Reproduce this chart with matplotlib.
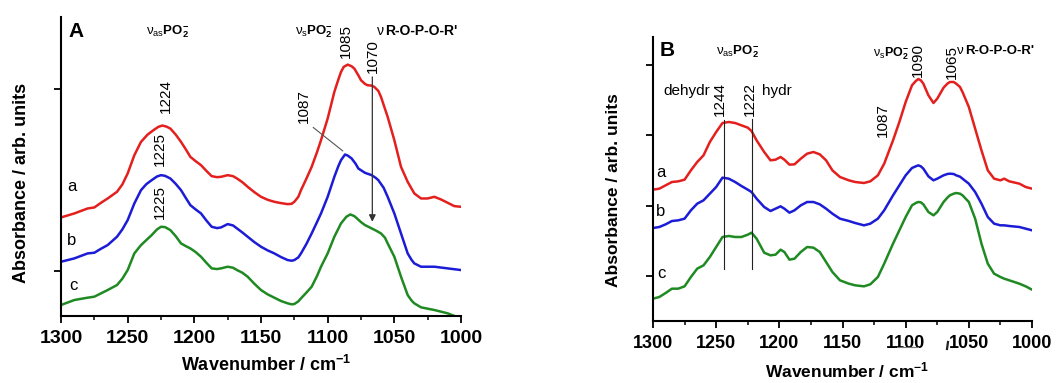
import numpy as np
import matplotlib
matplotlib.use('Agg')
import matplotlib.pyplot as plt
from matplotlib.ticker import MultipleLocator

plt.rcParams['font.family'] = ['Liberation Sans', 'DejaVu Sans']
plt.rcParams['mathtext.fontset'] = 'custom'
plt.rcParams['mathtext.rm'] = 'Liberation Sans'
plt.rcParams['mathtext.it'] = 'Liberation Sans'
plt.rcParams['mathtext.bf'] = 'Liberation Sans:bold'

# ---- Panel A data (wavenumber / cm-1, absorbance arb. units, offset) ----
wn_a_red = [1300, 1290, 1280, 1275, 1270, 1265, 1258, 1254, 1250, 1245,
            1240, 1235, 1230, 1227, 1224, 1221, 1218, 1214, 1210, 1206,
            1203, 1199, 1195, 1191, 1187, 1183, 1180, 1175, 1171, 1168,
            1164, 1160, 1155, 1150, 1145, 1140, 1135, 1130, 1127, 1125,
            1122, 1120, 1116, 1112, 1108, 1105, 1100, 1095, 1092, 1090,
            1088, 1085, 1082, 1080, 1077, 1075, 1072, 1070, 1067, 1065,
            1062, 1060, 1055, 1050, 1045, 1040, 1035, 1030, 1025, 1020,
            1015, 1010, 1005, 1000]
abs_a_red = [2.96, 3.08, 3.23, 3.26, 3.40, 3.53, 3.73, 3.95, 4.28, 4.83,
             5.23, 5.45, 5.60, 5.68, 5.72, 5.69, 5.63, 5.45, 5.23, 4.98,
             4.78, 4.65, 4.53, 4.36, 4.20, 4.17, 4.18, 4.23, 4.20, 4.13,
             4.02, 3.88, 3.72, 3.58, 3.49, 3.43, 3.39, 3.36, 3.37, 3.43,
             3.58, 3.78, 4.12, 4.48, 4.92, 5.28, 5.93, 6.73, 7.10, 7.33,
             7.48, 7.55, 7.50, 7.43, 7.23, 7.08, 6.97, 6.93, 6.92, 6.88,
             6.76, 6.58, 5.98, 5.28, 4.48, 4.03, 3.68, 3.53, 3.53, 3.58,
             3.50, 3.40, 3.30, 3.28]

wn_a_blue = [1300, 1290, 1280, 1275, 1270, 1265, 1258, 1254, 1250, 1245,
             1240, 1236, 1232, 1228, 1225, 1222, 1218, 1214, 1210, 1206,
             1203, 1199, 1195, 1191, 1187, 1183, 1180, 1175, 1171, 1168,
             1164, 1160, 1155, 1150, 1145, 1140, 1135, 1130, 1127, 1125,
             1122, 1120, 1116, 1112, 1108, 1105, 1100, 1095, 1092, 1090,
             1087, 1085, 1082, 1079, 1077, 1072, 1067, 1064, 1062, 1058,
             1055, 1050, 1045, 1040, 1037, 1035, 1030, 1020, 1010, 1000]
abs_a_blue = [1.63, 1.73, 1.88, 1.90, 2.02, 2.13, 2.38, 2.60, 2.88, 3.38,
              3.78, 3.96, 4.08, 4.19, 4.23, 4.21, 4.13, 3.97, 3.78, 3.52,
              3.33, 3.20, 3.08, 2.87, 2.68, 2.64, 2.66, 2.76, 2.72, 2.63,
              2.51, 2.38, 2.22, 2.08, 1.97, 1.88, 1.77, 1.68, 1.66, 1.68,
              1.76, 1.88, 2.16, 2.48, 2.82, 3.08, 3.58, 4.18, 4.50, 4.68,
              4.85, 4.82, 4.73, 4.57, 4.43, 4.30, 4.23, 4.15, 4.08, 3.85,
              3.58, 3.08, 2.48, 1.88, 1.68, 1.58, 1.48, 1.48, 1.43, 1.38]

wn_a_green = [1300, 1290, 1280, 1275, 1270, 1265, 1258, 1254, 1250, 1245,
              1240, 1236, 1232, 1228, 1225, 1222, 1218, 1214, 1210, 1206,
              1203, 1199, 1195, 1191, 1187, 1183, 1180, 1175, 1171, 1168,
              1164, 1160, 1155, 1150, 1145, 1140, 1135, 1130, 1127, 1125,
              1122, 1120, 1116, 1112, 1108, 1105, 1100, 1095, 1092, 1090,
              1086, 1083, 1080, 1078, 1075, 1072, 1067, 1064, 1060, 1057,
              1055, 1050, 1045, 1040, 1037, 1035, 1030, 1020, 1010, 1005,
              1000]
abs_a_green = [0.33, 0.48, 0.55, 0.58, 0.68, 0.78, 0.93, 1.12, 1.38, 1.88,
               2.13, 2.28, 2.43, 2.60, 2.68, 2.67, 2.58, 2.40, 2.18, 2.09,
               2.03, 1.92, 1.78, 1.60, 1.43, 1.41, 1.43, 1.48, 1.45, 1.38,
               1.30, 1.18, 0.97, 0.78, 0.65, 0.55, 0.45, 0.38, 0.35, 0.36,
               0.44, 0.53, 0.70, 0.88, 1.20, 1.48, 1.88, 2.38, 2.62, 2.78,
               2.98, 3.05, 3.00, 2.93, 2.82, 2.73, 2.63, 2.57, 2.48, 2.35,
               2.18, 1.78, 1.18, 0.63, 0.46, 0.38, 0.26, 0.18, 0.08, 0.00,
               -0.04]

# ---- Panel B data ----
wn_b = [1300, 1295, 1290, 1285, 1280, 1275, 1270, 1265, 1260, 1255,
        1250, 1245, 1240, 1235, 1230, 1225, 1222, 1218, 1212, 1207,
        1203, 1199, 1196, 1192, 1188, 1183, 1178, 1173, 1168, 1163,
        1158, 1152, 1145, 1140, 1133, 1128, 1122, 1117, 1110, 1105,
        1100, 1095, 1092, 1090, 1088, 1086, 1082, 1078, 1075, 1070,
        1067, 1065, 1062, 1060, 1057, 1055, 1050, 1045, 1040, 1035,
        1030, 1025, 1022, 1018, 1010, 1005, 1000]
abs_b_red = [3.94, 3.97, 4.07, 4.17, 4.19, 4.24, 4.52, 4.77, 4.97, 5.37,
             5.67, 5.94, 5.97, 5.94, 5.87, 5.80, 5.70, 5.42, 5.07, 4.82,
             4.84, 4.92, 4.84, 4.69, 4.70, 4.87, 5.02, 5.07, 5.00, 4.82,
             4.52, 4.32, 4.22, 4.17, 4.14, 4.19, 4.37, 4.72, 5.42, 5.97,
             6.57, 7.07, 7.20, 7.26, 7.22, 7.12, 6.77, 6.54, 6.67, 7.00,
             7.12, 7.17, 7.17, 7.12, 7.02, 6.87, 6.42, 5.77, 5.12, 4.52,
             4.27, 4.22, 4.27, 4.19, 4.12, 4.02, 3.97]
abs_b_blue = [2.79, 2.82, 2.90, 3.00, 3.02, 3.07, 3.32, 3.52, 3.62, 3.82,
              4.02, 4.30, 4.27, 4.17, 4.05, 3.94, 3.87, 3.67, 3.42, 3.30,
              3.37, 3.44, 3.37, 3.25, 3.32, 3.47, 3.57, 3.57, 3.50, 3.37,
              3.22, 3.07, 3.00, 2.94, 2.87, 2.92, 3.07, 3.32, 3.77, 4.07,
              4.37, 4.59, 4.64, 4.67, 4.64, 4.57, 4.34, 4.22, 4.27, 4.37,
              4.41, 4.42, 4.41, 4.37, 4.33, 4.27, 4.12, 3.87, 3.52, 3.12,
              2.92, 2.87, 2.87, 2.85, 2.82, 2.77, 2.72]
abs_b_green = [0.67, 0.72, 0.84, 0.97, 0.97, 1.04, 1.32, 1.57, 1.67, 1.92,
               2.22, 2.52, 2.55, 2.52, 2.52, 2.59, 2.65, 2.47, 2.05, 1.97,
               1.99, 2.14, 2.07, 1.84, 1.87, 2.07, 2.22, 2.20, 2.07, 1.77,
               1.47, 1.22, 1.12, 1.07, 1.04, 1.10, 1.32, 1.72, 2.32, 2.72,
               3.12, 3.47, 3.54, 3.57, 3.56, 3.50, 3.27, 3.17, 3.27, 3.57,
               3.70, 3.77, 3.82, 3.84, 3.82, 3.77, 3.57, 3.07, 2.32, 1.72,
               1.42, 1.32, 1.27, 1.22, 1.12, 1.04, 0.94]

RED, BLUE, GREEN = '#e3201e', '#1c1cd6', '#1f8a22'
LW = 1.8

fig = plt.figure(figsize=(10.61, 3.83), dpi=100)
axA = fig.add_axes([61 / 1061, 1 - 316 / 383, 400 / 1061, 299 / 383])
axB = fig.add_axes([653 / 1061, 1 - 321 / 383, 379 / 1061, 284 / 383])


def style(ax, yticks, ymax, fs):
    ax.set_xlim(1300, 1000)
    ax.set_ylim(0, ymax)
    for s in ['top', 'right']:
        ax.spines[s].set_visible(False)
    for s in ['left', 'bottom']:
        ax.spines[s].set_linewidth(1.5)
    ax.xaxis.set_major_locator(MultipleLocator(50))
    ax.xaxis.set_minor_locator(MultipleLocator(25))
    ax.set_yticks(yticks)
    ax.set_yticklabels([])
    ax.tick_params(axis='both', which='major', direction='out', length=5, width=1.3)
    ax.tick_params(axis='x', which='minor', direction='out', length=3, width=1.1)
    ax.tick_params(axis='x', labelsize=fs, pad=5)
    for lab in ax.get_xticklabels():
        lab.set_fontweight('bold')


def curve(ax, x, y, c):
    ax.plot(x, y, color=c, lw=LW, solid_joinstyle='round', solid_capstyle='round')


# ---------------- Panel A ----------------
curve(axA, wn_a_red, abs_a_red, RED)
curve(axA, wn_a_blue, abs_a_blue, BLUE)
curve(axA, wn_a_green, abs_a_green, GREEN)
style(axA, [6.83, 1.36], 8.98, 14)

axA.text(1294.5, 8.53, 'A', fontsize=15, fontweight='bold', va='center', ha='left')
axA.text(1236.5, 8.53, r'$\nu_{\mathrm{as}}\mathbf{PO}_{\mathbf{2}}^{\mathbf{-}}$',
         fontsize=9.5, va='center', ha='left')
axA.text(1124.5, 8.53, r'$\nu_{\mathrm{s}}\mathbf{PO}_{\mathbf{2}}^{\mathbf{-}}$',
         fontsize=9.5, va='center', ha='left')
axA.text(1058, 8.55, 'ν', fontsize=10, va='center', ha='right')
axA.text(1057, 8.55, "R-O-P-O-R'", fontsize=10, fontweight='bold', va='center', ha='left')

for x, y, s in [(1086.5, 8.26, '1085'), (1066, 7.81, '1070'), (1221.5, 6.62, '1224'),
                (1225.75, 5.03, '1225'), (1225.75, 3.43, '1225'), (1117.75, 6.31, '1087')]:
    axA.text(x, y, s, rotation=90, fontsize=11, ha='center', va='center')

axA.plot([1110.75, 1088.75], [5.66, 4.96], color='#555555', lw=0.8)
axA.annotate('', xy=(1066.5, 2.83), xytext=(1066.5, 7.18),
             arrowprops=dict(arrowstyle='-|>', color='#333333', lw=0.9,
                             mutation_scale=10, shrinkA=0, shrinkB=0))

for x, y, s in [(1292, 3.90, 'a'), (1292, 2.28, 'b'), (1290.75, 0.93, 'c')]:
    axA.text(x, y, s, fontsize=12, ha='center', va='center')

# ---------------- Panel B ----------------
curve(axB, wn_b, abs_b_red, RED)
curve(axB, wn_b, abs_b_blue, BLUE)
curve(axB, wn_b, abs_b_green, GREEN)
style(axB, [7.69, 5.57, 3.45, 1.34], 8.52, 13)

axB.text(1295, 8.12, 'B', fontsize=15, fontweight='bold', va='center', ha='left')
axB.text(1250, 8.07, r'$\nu_{\mathrm{as}}\mathbf{PO}_{\mathbf{2}}^{\mathbf{-}}$',
         fontsize=9.5, va='center', ha='left')
axB.text(1126, 8.02, r'$\nu_{\mathrm{s}}\mathbf{PO}_{\mathbf{2}}^{\mathbf{-}}$',
         fontsize=9, va='center', ha='left')
axB.text(1054, 8.10, 'ν', fontsize=9.5, va='center', ha='right')
axB.text(1053, 8.10, "R-O-P-O-R'", fontsize=9.5, fontweight='bold', va='center', ha='left')

for x, y, s in [(1090, 7.82, '1090'), (1063.4, 7.78, '1065'), (1247, 6.67, '1244'),
                (1223, 6.67, '1222'), (1118, 6.02, '1087')]:
    axB.text(x, y, s, rotation=90, fontsize=11, ha='center', va='center')
axB.text(1255, 6.90, 'dehydr', fontsize=11, ha='right', va='center')
axB.text(1213.6, 6.90, 'hydr', fontsize=11, ha='left', va='center')

axB.plot([1244, 1244], [6.02, 1.57], color='#222222', lw=0.8)
axB.plot([1221.5, 1221.5], [6.07, 1.57], color='#222222', lw=0.8)

for x, y, s in [(1294, 4.45, 'a'), (1294, 3.27, 'b'), (1293, 1.42, 'c')]:
    axB.text(x, y, s, fontsize=12, ha='center', va='center')

# stray marks seen under the B axis
fig.add_artist(plt.Line2D([897 / 1061, 918 / 1061], [1 - 347 / 383, 1 - 347 / 383],
                          color='#777777', lw=0.8))
fig.add_artist(plt.Line2D([948 / 1061, 947 / 1061], [1 - 342 / 383, 1 - 349 / 383],
                          color='#222222', lw=1.6))

# axis labels
fig.text(22 / 1061, 1 - 183 / 383, 'Absorbance / arb. units', rotation=90,
         fontsize=13, fontweight='bold', ha='center', va='center')
fig.text(613 / 1061, 1 - 190 / 383, 'Absorbance / arb. units', rotation=90,
         fontsize=12.5, fontweight='bold', ha='center', va='center')
fig.text(266 / 1061, 1 - 365 / 383, r'Wavenumber / cm$^{\mathbf{-1}}$',
         fontsize=13, fontweight='bold', ha='center', va='center')
fig.text(847 / 1061, 1 - 370 / 383, r'Wavenumber / cm$^{\mathbf{-1}}$',
         fontsize=12.5, fontweight='bold', ha='center', va='center')

fig.savefig('out.png', dpi=100)
